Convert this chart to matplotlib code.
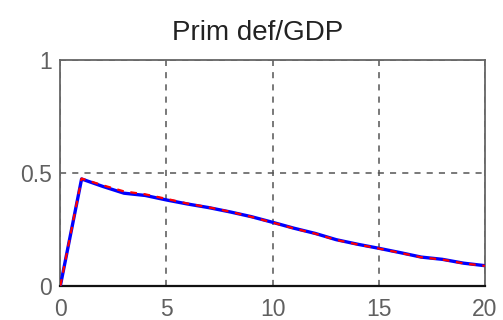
import matplotlib
matplotlib.use("Agg")
import matplotlib.pyplot as plt

x = list(range(21))
blue = [0.0, 0.473, 0.44, 0.41, 0.40, 0.38, 0.362, 0.346, 0.327, 0.306, 0.281,
        0.255, 0.232, 0.204, 0.184, 0.166, 0.147, 0.127, 0.117, 0.100, 0.089]
red = [0.0, 0.475, 0.445, 0.418, 0.405, 0.385, 0.364, 0.347, 0.328, 0.305, 0.280,
       0.254, 0.231, 0.203, 0.183, 0.165, 0.146, 0.126, 0.116, 0.099, 0.088]
xticks = [0, 5, 10, 15, 20]
yticks = [0, 0.5, 1]
yticklabels = ["0", "0.5", "1"]
title = "Prim def/GDP"

plt.rcParams['font.family'] = ['Liberation Sans', 'DejaVu Sans']

fig = plt.figure(figsize=(5.03, 3.20), dpi=100)
ax = fig.add_axes([0.12, 0.107, 0.844, 0.7055])
ax.plot(x, blue, color='#0000ff', lw=2.4, solid_capstyle='butt', zorder=3)
ax.plot(x, red, color='#ff0000', lw=1.6, ls=(0, (3, 3)), zorder=4)

ax.set_xlim(0, 20)
ax.set_ylim(0, 1)
ax.set_xticks(xticks)
ax.set_yticks(yticks)
ax.set_yticklabels(yticklabels)
ax.grid(True, ls=(0, (4, 4)), color='#555555', lw=1.1)
ax.tick_params(length=0, labelsize=16.5, colors='#606060')
ax.tick_params(axis='x', pad=9)
ax.tick_params(axis='y', pad=6)
for s in ['left', 'top', 'right']:
    ax.spines[s].set_color('#666666')
    ax.spines[s].set_linewidth(1.3)
ax.spines['bottom'].set_color('#111111')
ax.spines['bottom'].set_linewidth(1.6)
fig.text(258 / 503, 1 - 39.5 / 320, title, fontsize=20, color='#222222',
         ha='center', va='baseline')

fig.savefig("out.png", dpi=100)
